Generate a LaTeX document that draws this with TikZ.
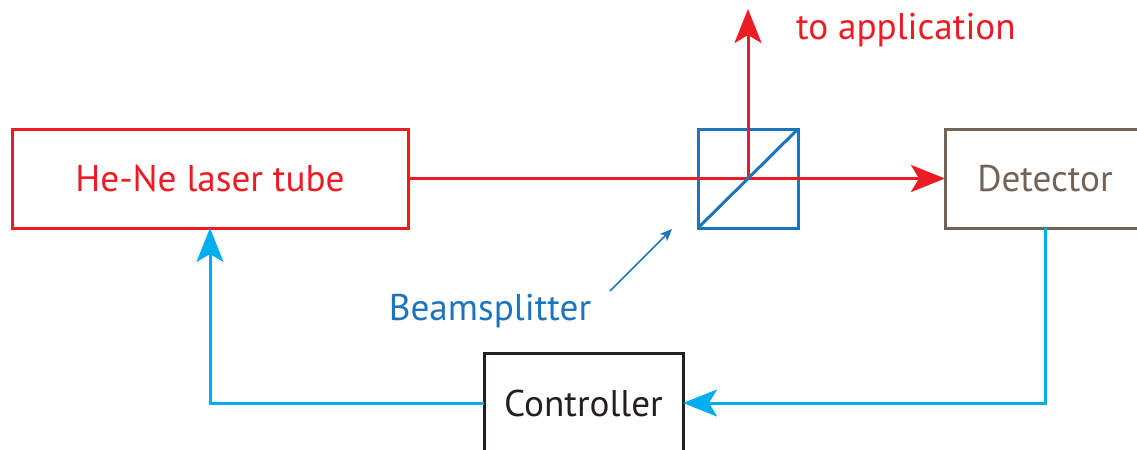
\documentclass[tikz,border=0pt]{standalone}
\usepackage{fontspec}
\setmainfont{PT Sans}
\usepackage{tikz}
\usetikzlibrary{arrows.meta,positioning}
\definecolor{laserred}{HTML}{ED1C24}
\definecolor{splitblue}{HTML}{1C75BC}
\definecolor{loopcyan}{HTML}{00AEEF}
\definecolor{detbrown}{HTML}{736357}
\definecolor{ctrlblack}{HTML}{231F20}

\begin{document}
\begin{tikzpicture}[x=0.5pt,y=-0.5pt, every node/.style={font=\fontsize{18.6}{23}\selectfont},
  box/.style={draw, line width=1.5pt, inner sep=0pt, outer sep=0pt, minimum height=49.5pt},
  beam/.style={laserred, line width=1.5pt, -{Stealth[length=17pt,width=13.5pt,inset=4pt]}},
  feed/.style={loopcyan, line width=1.5pt},
  fedarrow/.style={feed, -{Stealth[length=17pt,width=13.5pt,inset=4pt]}}]
\useasboundingbox (0,0) rectangle (1137,450);
\clip (0,0) rectangle (1137,450);
\node[box, laserred, text=laserred, minimum width=198pt] (laser) at (210,178.5) {He-Ne laser tube};
\node[box, splitblue, minimum width=50pt] (splitter) at (748,178.5) {};
\node[box, detbrown, text=detbrown, minimum width=100pt] (detector) at (1045,178.5) {Detector};
\node[box, ctrlblack, text=ctrlblack, minimum width=99.5pt] (controller) at (583.5,403) {Controller};
\coordinate (app) at (748,9);
\node[anchor=west, text=laserred] (apptext) at (789,30) {to application};
\node[text=splitblue] (bslabel) at (490,311) {Beamsplitter};
\coordinate (bstail) at (610,291);
\coordinate (bstip) at (672,229);
% laser beam
\draw[beam] (laser.east) -- (detector.west);
\draw[beam] (splitter.center) -- (app);
\draw[splitblue, line width=1.5pt] (splitter.south west) -- (splitter.north east);
\draw[splitblue, line width=0.8pt, -{Stealth[length=6pt,width=5pt,inset=1.5pt]}] (bstail) -- (bstip);
% feedback loop
\draw[fedarrow] (detector.south) |- (controller.east);
\draw[fedarrow] (controller.west) -| (laser.south);
\end{tikzpicture}
\end{document}
